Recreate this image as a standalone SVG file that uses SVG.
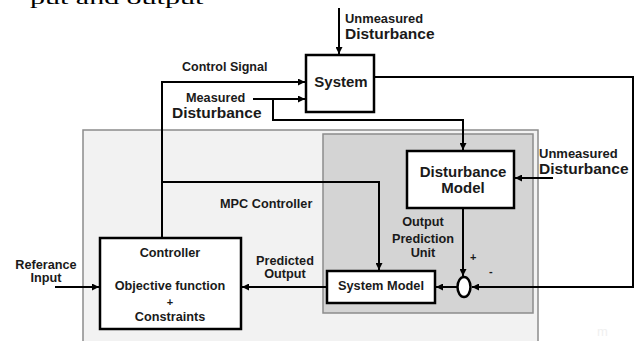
<svg xmlns="http://www.w3.org/2000/svg" width="636" height="341" viewBox="0 0 636 341">
<defs>
<marker id="arr" viewBox="0 0 10 10" refX="10" refY="5" markerWidth="9" markerHeight="7" markerUnits="userSpaceOnUse" orient="auto">
<path d="M0,0 L10,5 L0,10 z" fill="#000"/>
</marker>
<style>
text{font-family:"Liberation Sans",Arial,sans-serif;font-weight:bold;fill:#1a1a1a}
.s{font-size:12.7px}
.l{font-size:15.5px}
.c{text-anchor:middle}
.box{fill:#fff;stroke:#000;stroke-width:2.5}
.ln{fill:none;stroke:#000;stroke-width:2}
</style>
</defs>
<rect width="636" height="341" fill="#fff"/>
<text transform="translate(30,4) scale(1,0.55)" x="0" y="0" style="font-family:'Liberation Serif',serif;font-weight:normal;font-size:30px;fill:#000">put and output</text>
<g id="mpc">
<rect x="83" y="130" width="455" height="220" fill="#f2f2f2" stroke="#8c8c8c" stroke-width="1.5"/>
<text x="220" y="208" class="s">MPC Controller</text>
</g>
<g id="opu">
<rect x="323" y="134" width="210" height="179" fill="#d4d4d4" stroke="#8c8c8c" stroke-width="1.5"/>
<text class="s c" x="423" y="226">Output</text>
<text class="s c" x="423" y="243">Prediction</text>
<text class="s c" x="423" y="257">Unit</text>
</g>
<g id="system">
<rect class="box" x="306" y="55" width="68" height="57"/>
<text class="c" x="341" y="87" style="font-size:15px">System</text>
</g>
<g id="disturbance-model">
<rect class="box" x="407" y="151" width="107" height="57"/>
<text class="c" x="463" y="177" style="font-size:15px">Disturbance</text>
<text class="c" x="463" y="193" style="font-size:15px">Model</text>
</g>
<g id="system-model">
<rect class="box" x="327" y="271" width="108" height="32"/>
<text class="c" x="381" y="290" style="font-size:12.8px">System Model</text>
</g>
<g id="controller">
<rect class="box" x="100" y="238" width="141" height="91"/>
<text class="s c" x="170" y="257">Controller</text>
<text class="s c" x="170" y="290">Objective function</text>
<text class="c" x="170" y="306" style="font-size:11px">+</text>
<text class="s c" x="170" y="321">Constraints</text>
</g>
<g id="sum">
<ellipse cx="464" cy="287" rx="6.5" ry="10" fill="#fff" stroke="#000" stroke-width="2.5"/>
<text x="470" y="261" style="font-size:11px">+</text>
<text x="489" y="275" style="font-size:11px">-</text>
</g>
<g id="labels">
<text class="s" x="182" y="71" style="font-size:12.5px">Control Signal</text>
<text class="s" x="186" y="102">Measured</text>
<text class="l" x="172" y="118">Disturbance</text>
<text x="345" y="23" style="font-size:12.9px">Unmeasured</text>
<text class="l" x="345" y="39">Disturbance</text>
<text x="539" y="158" style="font-size:13px">Unmeasured</text>
<text class="l" x="539" y="174">Disturbance</text>
<text class="s c" x="46" y="269">Referance</text>
<text class="s c" x="46" y="282">Input</text>
<text class="s c" x="285" y="265">Predicted</text>
<text class="s c" x="285" y="278">Output</text>
<text x="597" y="336" style="font-size:13px;font-weight:normal;fill:#f0f0f0">m</text>
</g>
<g id="connectors">
<path class="ln" d="M162,238 V82 H305" marker-end="url(#arr)"/>
<path class="ln" d="M253,99 H305" marker-end="url(#arr)"/>
<path class="ln" d="M273,99 V120 H463 V150" marker-end="url(#arr)"/>
<path class="ln" d="M339,8 V54" marker-end="url(#arr)"/>
<path class="ln" d="M374,77 H633 V287 H472" marker-end="url(#arr)"/>
<path class="ln" d="M553,178 H515" marker-end="url(#arr)"/>
<path class="ln" d="M463,208 V276" marker-end="url(#arr)"/>
<path class="ln" d="M457,287 H436" marker-end="url(#arr)"/>
<path class="ln" d="M162,182 H379 V270" marker-end="url(#arr)"/>
<path class="ln" d="M327,287 H242" marker-end="url(#arr)"/>
<path class="ln" d="M55,287 H99" marker-end="url(#arr)"/>
</g>
</svg>
